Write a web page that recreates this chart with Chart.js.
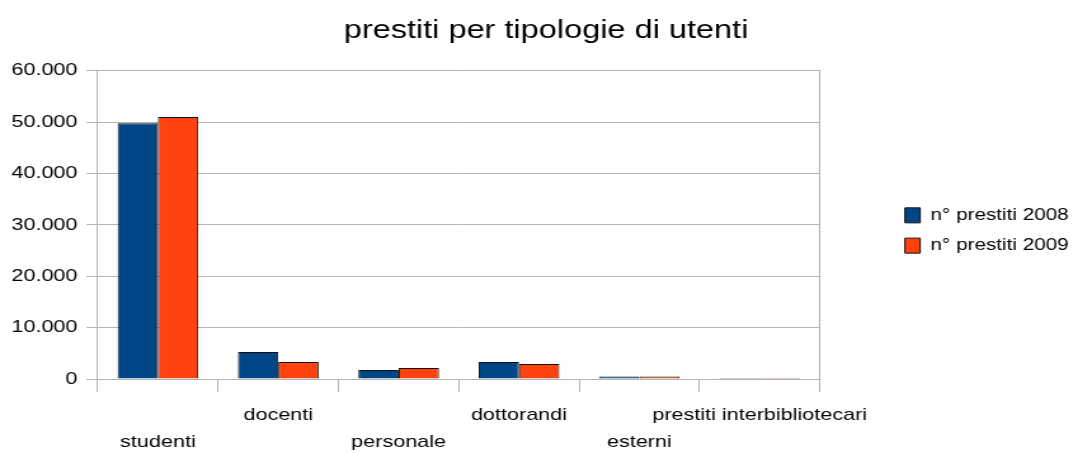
<!DOCTYPE html>
<html>
<head>
<meta charset="utf-8">
<script src="https://cdn.jsdelivr.net/npm/chart.js@4"></script>
<style>
  html, body { margin: 0; padding: 0; background: #ffffff; overflow: hidden; }
  #wrap { width: 845px; height: 453px; transform: scaleX(1.2698); transform-origin: 0 0; }
</style>
</head>
<body>
<div id="wrap"><canvas id="c" width="845" height="453"></canvas></div>
<script>
const chartTitle = 'prestiti per tipologie di utenti';
const categories = ['studenti', 'docenti', 'personale', 'dottorandi', 'esterni', 'prestiti interbibliotecari'];
const seriesNames = ['n° prestiti 2008', 'n° prestiti 2009'];
const prestiti2008 = [49800, 5250, 1750, 3300, 480, 200];
const prestiti2009 = [51000, 3300, 2150, 2900, 490, 190];
const yTickValues = [0, 10000, 20000, 30000, 40000, 50000, 60000];
const yTickLabels = ['0', '10.000', '20.000', '30.000', '40.000', '50.000', '60.000'];

const FONT = "'Liberation Sans', Arial, sans-serif";
const GRID = '#b3b3b3';

const layoutTweaks = {
  id: 'layoutTweaks',
  afterLayout(chart) {
    const t = chart.titleBlock;
    if (t) {
      const d = 430 - (t.left + t.right) / 2;
      t.left += d; t.right += d;
    }
    const l = chart.legend;
    if (l) {
      l.right = chart.width;
      l.width = l.right - l.left;
      l.top += 4; l.bottom += 4;
    }
  }
};

new Chart(document.getElementById('c'), {
  type: 'bar',
  data: {
    labels: categories,
    datasets: [
      { label: seriesNames[0], data: prestiti2008, backgroundColor: '#004586', borderColor: '#111111', borderWidth: 1 },
      { label: seriesNames[1], data: prestiti2009, backgroundColor: '#ff420e', borderColor: '#111111', borderWidth: 1 }
    ]
  },
  plugins: [layoutTweaks],
  options: {
    responsive: false,
    animation: false,
    devicePixelRatio: 1,
    layout: { padding: { left: 2, right: 7, top: 0, bottom: 0 } },
    datasets: { bar: { categoryPercentage: 0.67, barPercentage: 1.0 } },
    plugins: {
      title: {
        display: true,
        text: chartTitle,
        color: '#000000',
        font: { family: FONT, size: 25.6, weight: 'normal' },
        padding: { top: 16, bottom: 24 }
      },
      legend: {
        position: 'right',
        labels: {
          color: '#000000',
          font: { family: FONT, size: 16.3 },
          boxWidth: 12,
          boxHeight: 15,
          padding: 14
        }
      },
      tooltip: { enabled: false }
    },
    scales: {
      x: {
        grid: { drawOnChartArea: false, color: GRID, tickColor: GRID, tickLength: 13, offset: true },
        border: { color: GRID },
        ticks: {
          color: '#000000',
          font: { family: FONT, size: 17, lineHeight: 1.6 },
          maxRotation: 0,
          minRotation: 0,
          autoSkip: false,
          padding: 10,
          callback: function (v, i) { return i % 2 === 0 ? ['', categories[i]] : [categories[i]]; }
        },
        afterFit: function (s) { s.height = 74; }
      },
      y: {
        min: 0,
        max: 60000,
        afterBuildTicks: function (s) { s.ticks = yTickValues.map(v => ({ value: v })); },
        grid: { color: GRID, tickColor: GRID, tickLength: 9 },
        border: { color: GRID },
        ticks: {
          color: '#000000',
          font: { family: FONT, size: 17 },
          padding: 7,
          callback: function (v) { const k = yTickValues.indexOf(v); return k >= 0 ? yTickLabels[k] : ''; }
        }
      },
      yR: {
        position: 'right',
        min: 0,
        max: 1,
        grid: { display: false },
        border: { display: true, color: GRID },
        ticks: { display: false },
        afterFit: function (s) { s.width = 53; }
      }
    }
  }
});
</script>
</body>
</html>
